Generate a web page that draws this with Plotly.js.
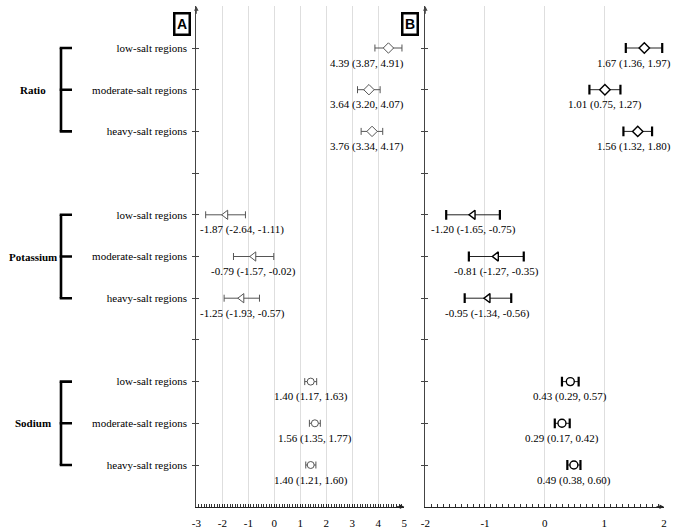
<!DOCTYPE html>
<html>
<head>
<meta charset="utf-8">
<script src="https://cdn.plot.ly/plotly-3.0.1.min.js"></script>
<style>html,body{margin:0;padding:0;background:#fff;}#chart{width:675px;height:529px;}</style>
</head>
<body>
<div id="chart"></div>
<script>
// ---- data ----
const groups = ['Ratio', 'Potassium', 'Sodium'];
const regions = ['low-salt regions', 'moderate-salt regions', 'heavy-salt regions'];

// Panel A
const A_ratio_est = [4.39, 3.64, 3.76];
const A_ratio_lo  = [3.87, 3.20, 3.34];
const A_ratio_hi  = [4.91, 4.07, 4.17];
const A_k_est = [-1.87, -0.79, -1.25];
const A_k_lo  = [-2.64, -1.57, -1.93];
const A_k_hi  = [-1.11, -0.02, -0.57];
const A_na_est = [1.40, 1.56, 1.40];
const A_na_lo  = [1.17, 1.35, 1.21];
const A_na_hi  = [1.63, 1.77, 1.60];

// Panel B
const B_ratio_est = [1.67, 1.01, 1.56];
const B_ratio_lo  = [1.36, 0.75, 1.32];
const B_ratio_hi  = [1.97, 1.27, 1.80];
const B_k_est = [-1.20, -0.81, -0.95];
const B_k_lo  = [-1.65, -1.27, -1.34];
const B_k_hi  = [-0.75, -0.35, -0.56];
const B_na_est = [0.43, 0.29, 0.49];
const B_na_lo  = [0.29, 0.17, 0.38];
const B_na_hi  = [0.57, 0.42, 0.60];

const xTicksA = [-3, -2, -1, 0, 1, 2, 3, 4, 5];
const xTickTextA = ['-3', '-2', '-1', '0', '1', '2', '3', '4', '5'];
const xTicksB = [-2, -1, 0, 1, 2];
const xTickTextB = ['-2', '-1', '0', '1', '2'];

// ---- layout helpers ----
const W = 675, H = 529;
const SERIF = '"Liberation Serif", "Times New Roman", serif';
const domA = [196.3 / W, 404.3 / W];
const domB = [425.3 / W, 664 / W];
const domY = [1 - 506.7 / H, 1 - 6.3 / H];
const rangeA = [-3, 5], rangeB = [-2, 2];
const nRows = 12;

function rowOf(g, i) { return g * 4 + i + 1; }

const panelA = [
  {est: A_ratio_est, lo: A_ratio_lo, hi: A_ratio_hi},
  {est: A_k_est, lo: A_k_lo, hi: A_k_hi},
  {est: A_na_est, lo: A_na_lo, hi: A_na_hi}
];
const panelB = [
  {est: B_ratio_est, lo: B_ratio_lo, hi: B_ratio_hi},
  {est: B_k_est, lo: B_k_lo, hi: B_k_hi},
  {est: B_na_est, lo: B_na_lo, hi: B_na_hi}
];
const symbols = ['diamond', 'triangle-left', 'circle'];
const sizesA = [8, 8, 7];
const sizesB = [8, 8, 8];

const traces = [];
const annotations = [];

const ctx = document.createElement('canvas').getContext('2d');
ctx.font = '11px "Liberation Serif"';

function addPanel(panel, xa, ya, isB, dom, range, limits) {
  const ppu = (dom[1] - dom[0]) * W / (range[1] - range[0]);
  const x0px = dom[0] * W;
  panel.forEach((d, g) => {
    const rows = d.est.map((_, i) => rowOf(g, i));
    traces.push({
      type: 'scatter', mode: 'markers', xaxis: xa, yaxis: ya,
      x: d.est, y: rows, hoverinfo: 'skip', showlegend: false,
      error_x: {
        type: 'data', symmetric: false,
        array: d.hi.map((h, i) => h - d.est[i]),
        arrayminus: d.lo.map((l, i) => d.est[i] - l),
        color: isB ? '#222' : '#555', thickness: 1, width: isB ? 0 : 3.5
      },
      marker: {
        symbol: symbols[g], size: isB ? sizesB[g] : sizesA[g], color: '#fff',
        line: {color: isB ? '#000' : '#555', width: isB ? 1.4 : 1}
      }
    });
    if (isB) {
      traces.push({
        type: 'scatter', mode: 'markers', xaxis: xa, yaxis: ya,
        x: d.lo.concat(d.hi), y: rows.concat(rows), hoverinfo: 'skip', showlegend: false,
        marker: {symbol: 'line-ns', size: 7, line: {color: '#000', width: 2.2}}
      });
    }
    d.est.forEach((e, i) => {
      const txt = e.toFixed(2) + ' (' + d.lo[i].toFixed(2) + ', ' + d.hi[i].toFixed(2) + ')';
      const w = ctx.measureText(txt).width + 2;
      const c = x0px + (e - range[0]) * ppu;
      let shift = 0;
      if (c + w / 2 > limits[1]) shift = limits[1] - w / 2 - c;
      if (c - w / 2 < limits[0]) shift = limits[0] + w / 2 - c;
      annotations.push({
        xref: xa, yref: ya, x: e, y: rows[i], xshift: shift, yshift: -15,
        text: txt, showarrow: false, xanchor: 'center', yanchor: 'middle',
        font: {family: SERIF, size: 11, color: '#000'}
      });
    });
  });
}

addPanel(panelA, 'x', 'y', false, domA, rangeA, [domA[0] * W + 3, domA[1] * W]);
addPanel(panelB, 'x2', 'y2', true, domB, rangeB, [domB[0] * W + 3, W - 3]);

// overlay axes to get ticks crossing the y-axis lines
traces.push({type: 'scatter', x: [null], y: [null], xaxis: 'x', yaxis: 'y3', showlegend: false, hoverinfo: 'skip'});
traces.push({type: 'scatter', x: [null], y: [null], xaxis: 'x2', yaxis: 'y4', showlegend: false, hoverinfo: 'skip'});

// y tick labels
const yTickVals = [], yTickText = [];
for (let r = 1; r < nRows; r++) {
  yTickVals.push(r);
  const i = (r - 1) % 4;
  yTickText.push(i < 3 ? regions[i] : '');
}

// group labels + brackets
const shapes = [];
groups.forEach((gname, g) => {
  const r0 = rowOf(g, 0), r1 = rowOf(g, 1), r2 = rowOf(g, 2);
  annotations.push({
    xref: 'paper', yref: 'y', x: 33 / W, y: r1, xanchor: 'center', yanchor: 'middle',
    text: '<b>' + gname + '</b>', showarrow: false,
    font: {family: SERIF, size: 11, color: '#000'}
  });
  const bx = 61 / W, bx2 = 72 / W;
  shapes.push({type: 'line', xref: 'paper', yref: 'y', x0: bx, x1: bx, y0: r0, y1: r2, line: {color: '#000', width: 2.6}});
  [r0, r1, r2].forEach(r => {
    shapes.push({type: 'line', xref: 'paper', yref: 'y', x0: bx - 1.3 / W, x1: bx2, y0: r, y1: r, line: {color: '#000', width: 2.6}});
  });
});

// panel letters
const letterFont = {family: 'Liberation Sans, Arial, sans-serif', size: 14, color: '#000'};
annotations.push({xref: 'paper', yref: 'paper', x: 173 / W, y: 1 - 12 / H, text: '<b>A</b>', showarrow: false,
  font: letterFont, bordercolor: '#000', borderwidth: 2.5, borderpad: 1.5, bgcolor: '#fff'});
annotations.push({xref: 'paper', yref: 'paper', x: 410 / W, y: 1 - 12 / H, text: '<b>B</b>', showarrow: false,
  font: letterFont, bordercolor: '#000', borderwidth: 2.5, borderpad: 1.5, bgcolor: '#fff'});

// axis arrows
[['x', 'y', rangeA], ['x2', 'y2', rangeB]].forEach(([xa, ya, rg]) => {
  annotations.push({xref: xa, yref: ya, x: rg[1], y: nRows, ax: -9, ay: 0, text: '', showarrow: true,
    arrowhead: 2, arrowsize: 0.9, arrowwidth: 1, arrowcolor: '#222'});
  annotations.push({xref: xa, yref: ya, x: rg[0], y: 0, ax: 0, ay: 9, text: '', showarrow: true,
    arrowhead: 2, arrowsize: 0.9, arrowwidth: 1, arrowcolor: '#444'});
});

const tickFont = {family: SERIF, size: 11, color: '#000'};
function xAxis(dom, range, tv, tt, anchor) {
  return {
    domain: dom, range: range, anchor: anchor, tickvals: tv, ticktext: tt,
    showgrid: true, gridcolor: '#dedede', gridwidth: 1, zeroline: false,
    showline: true, linecolor: '#222', linewidth: 1,
    ticks: 'inside', ticklen: 3, tickcolor: '#222', tickwidth: 1,
    minor: {dtick: 0.1, tick0: 0, ticklen: 2.5, tickcolor: '#333', showgrid: false, ticks: 'inside'},
    tickfont: tickFont, ticklabelstandoff: 6, fixedrange: true
  };
}
function yAxis(anchor, extra) {
  return Object.assign({
    domain: domY, range: [nRows, 0], anchor: anchor, tickvals: yTickVals, ticktext: yTickText,
    showgrid: false, zeroline: false, showline: true, linecolor: '#444', linewidth: 1,
    ticks: 'outside', ticklen: 3, tickcolor: '#444', tickwidth: 1,
    tickfont: tickFont, fixedrange: true
  }, extra || {});
}

const layout = {
  width: W, height: H,
  margin: {l: 0, r: 0, t: 0, b: 0, pad: 0},
  paper_bgcolor: '#fff', plot_bgcolor: 'rgba(0,0,0,0)',
  showlegend: false,
  xaxis: xAxis(domA, rangeA, xTicksA, xTickTextA, 'y'),
  xaxis2: xAxis(domB, rangeB, xTicksB, xTickTextB, 'y2'),
  yaxis: yAxis('x', {ticklabelstandoff: 3}),
  yaxis2: yAxis('x2', {showticklabels: false}),
  yaxis3: yAxis('x', {overlaying: 'y', showline: false, ticks: 'inside', showticklabels: false}),
  yaxis4: yAxis('x2', {overlaying: 'y2', showline: false, ticks: 'inside', showticklabels: false}),
  shapes: shapes,
  annotations: annotations
};

Plotly.newPlot('chart', traces, layout, {staticPlot: true, displayModeBar: false});
</script>
</body>
</html>
